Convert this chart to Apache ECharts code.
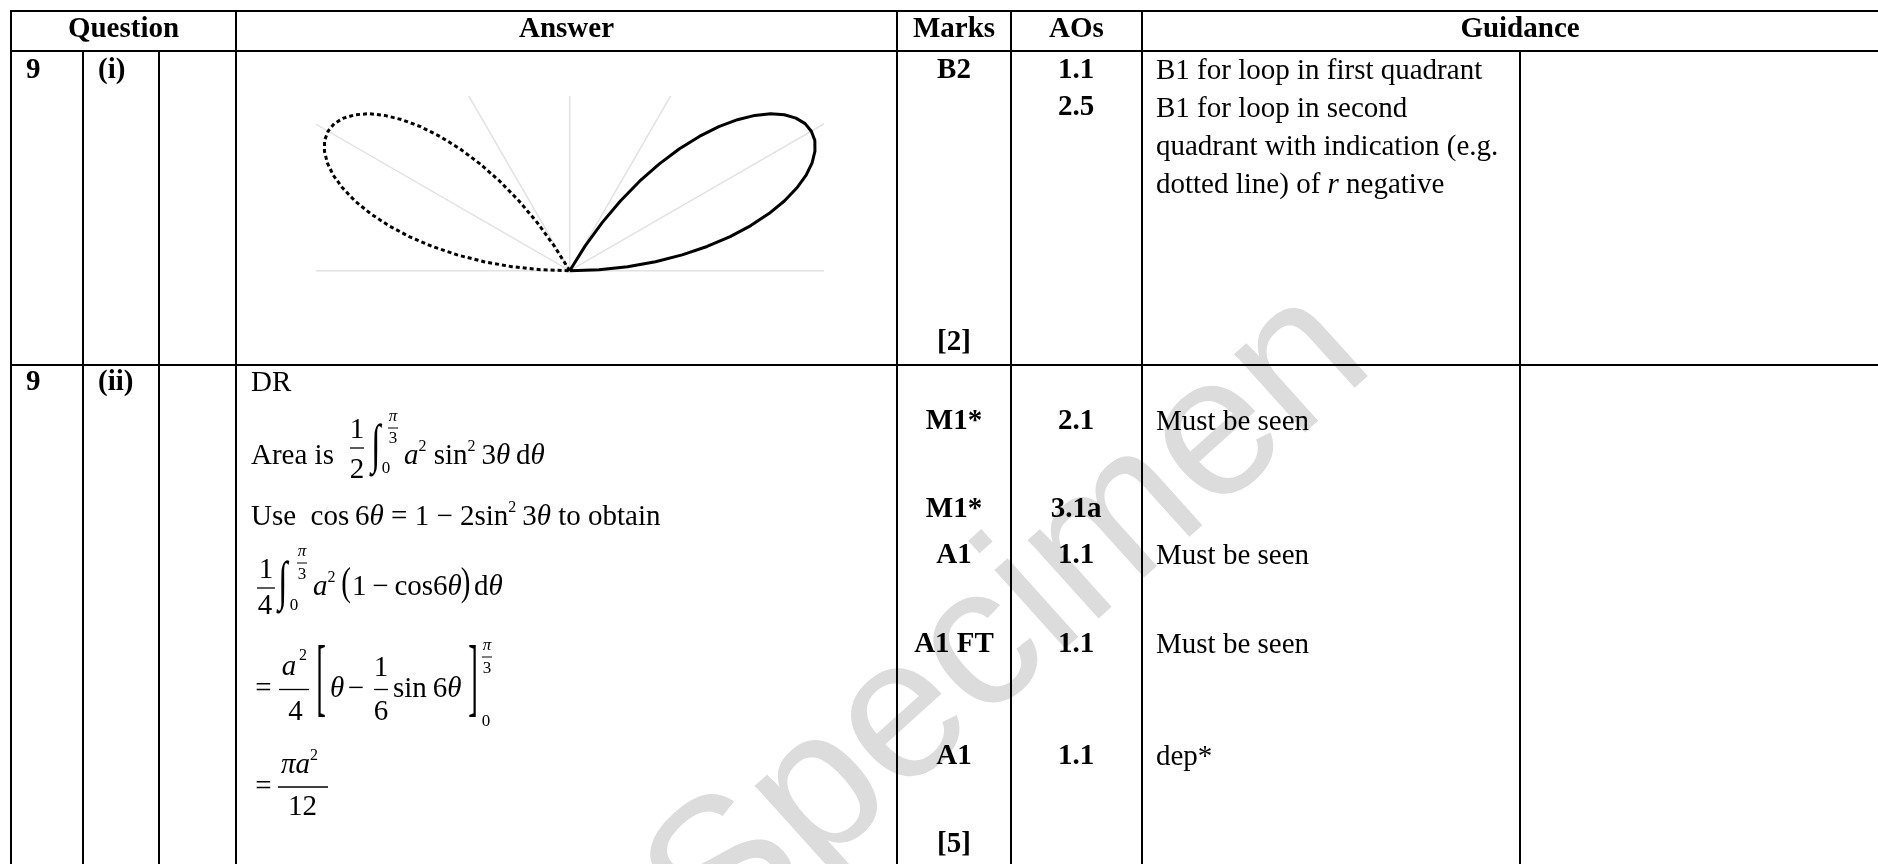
<!DOCTYPE html>
<html><head><meta charset="utf-8">
<script src="https://cdn.jsdelivr.net/npm/echarts@6/dist/echarts.min.js"></script>
<style>html,body{margin:0;padding:0;background:#fff}#c{width:1878px;height:864px}</style>
</head><body><div id="c"></div>
<script>
// ---------- data ----------
const guideAngles = [0, 30, 60, 90, 120, 150, 180];
const firstLoopAngles = [0,2,4,6,8,10,12,14,16,18,20,22,24,26,28,30,32,34,36,38,40,42,44,46,48,50,52,54,56,58,60];
const secondLoopAngles = [120,122,124,126,128,130,132,134,136,138,140,142,144,146,148,150,152,154,156,158,160,162,164,166,168,170,172,174,176,178,180];
const loopRadius = [0,0.105,0.208,0.309,0.407,0.5,0.588,0.669,0.743,0.809,0.866,0.914,0.951,0.978,0.995,1,0.995,0.978,0.951,0.914,0.866,0.809,0.743,0.669,0.588,0.5,0.407,0.309,0.208,0.105,0];
const headerLabels = ['Question', 'Answer', 'Marks', 'AOs', 'Guidance'];
const questionNos = ['9', '9'];
const partLabels = ['(i)', '(ii)'];
const marksI = ['B2', '[2]'];
const aosI = ['1.1', '2.5'];
const guidanceI = ['B1 for loop in first quadrant', 'B1 for loop in second', 'quadrant with indication (e.g.', 'dotted line) of {it|r} negative'];
const marksII = ['M1*', 'M1*', 'A1', 'A1 FT', 'A1', '[5]'];
const aosII = ['2.1', '3.1a', '1.1', '1.1', '1.1'];
const guidanceII = ['Must be seen', '', 'Must be seen', 'Must be seen', 'dep*'];

// ---------- layout ----------
const SERIF = '"Liberation Serif", "Times New Roman", serif';
const F = 29;
const colX = [11, 83, 159, 236, 897, 1011, 1142, 1520];
const rowY = [11, 51, 365];
const marksIY = [71, 343];
const aosIY = [71, 108];
const guidanceIY = [71, 109, 147, 185];
const marksIIY = [422, 510, 556, 645, 757, 845];
const marksX = 954, aosX = 1076, guideX = 1156;

const els = [];
function line(x1, y1, x2, y2, w, z) {
  els.push({type: 'line', z: z || 100, silent: true, shape: {x1, y1, x2, y2}, style: {stroke: '#000', lineWidth: w || 2}});
}
const rich = {
  n: {fontFamily: SERIF, fontSize: F, lineHeight: 34, fill: '#000'},
  it: {fontFamily: SERIF, fontSize: F, fontStyle: 'italic', lineHeight: 34, fill: '#000'},
  s: {fontFamily: SERIF, fontSize: 16, lineHeight: 25, verticalAlign: 'top', fill: '#000'}
};
function txt(x, y, text, o) {
  o = o || {};
  els.push({
    type: 'text', z: 110, silent: true, x, y,
    scaleX: o.sx || 1, scaleY: o.sy || 1,
    style: {
      text, x: 0, y: 0, fill: '#000',
      fontFamily: o.family || SERIF, fontSize: o.size || F,
      fontWeight: o.bold ? 'bold' : 'normal', fontStyle: o.italic ? 'italic' : 'normal',
      align: o.align || 'left', verticalAlign: 'middle',
      rich: o.rich ? rich : undefined
    }
  });
}

// watermark
els.push({type: 'text', z: -10, silent: true, x: 1010, y: 624, rotation: 42 * Math.PI / 180,
  style: {text: 'Specimen', x: 0, y: 0, fill: '#dcdcdc', fontFamily: '"Liberation Sans", Arial, sans-serif', fontSize: 200, align: 'center', verticalAlign: 'middle'}});

// table grid
line(colX[0] - 1, rowY[0], 1878, rowY[0]);
line(colX[0] - 1, rowY[1], 1878, rowY[1]);
line(colX[0] - 1, rowY[2], 1878, rowY[2]);
[0, 3, 4, 5, 6].forEach(i => line(colX[i], rowY[0] - 1, colX[i], 864));
[1, 2, 7].forEach(i => line(colX[i], rowY[1], colX[i], 864));

// headers
const headerCenters = [(colX[0] + colX[3]) / 2, (colX[3] + colX[4]) / 2, (colX[4] + colX[5]) / 2, (colX[5] + colX[6]) / 2, colX[7]];
headerLabels.forEach((h, i) => txt(headerCenters[i], 30, h, {bold: true, align: 'center'}));

// question / part labels
questionNos.forEach((q, i) => txt(26, [71, 383][i], q, {bold: true}));
partLabels.forEach((p, i) => txt(98, [71, 383][i], p, {bold: true}));

// part (i) marks, AOs, guidance
marksI.forEach((m, i) => txt(marksX, marksIY[i], m, {bold: true, align: 'center'}));
aosI.forEach((a, i) => txt(aosX, aosIY[i], a, {bold: true, align: 'center'}));
guidanceI.forEach((g, i) => txt(guideX, guidanceIY[i], '{n|' + g.replace('{it|r}', '}{it|r}{n|') + '}', {rich: true}));

// part (ii) marks, AOs, guidance
marksII.forEach((m, i) => txt(marksX, marksIIY[i], m, {bold: true, align: 'center'}));
aosII.forEach((a, i) => txt(aosX, marksIIY[i], a, {bold: true, align: 'center'}));
guidanceII.forEach((g, i) => { if (g) txt(guideX, marksIIY[i], g); });

// answer (ii) working
txt(251, 383, 'DR');
// Area is 1/2 int a^2 sin^2 3θ dθ
txt(251, 456, 'Area is');
txt(357, 430, '1', {align: 'center'});
line(350, 448, 364, 448, 1.3, 110);
txt(357, 470, '2', {align: 'center'});
txt(376, 448, '\u222B', {align: 'center', size: 34, sy: 1.6});
txt(393, 417, '\u03C0', {align: 'center', size: 17, italic: true});
line(388, 428, 398, 428, 1, 110);
txt(393, 439, '3', {align: 'center', size: 17});
txt(386, 469, '0', {align: 'center', size: 17});
txt(404, 456, '{it|a}{s|2}{n| sin}{s|2}{n|\u20093}{it|θ}{n|\u2009d}{it|θ}', {rich: true});
// Use cos6θ = 1 − 2sin^2 3θ to obtain
txt(251, 517, '{n|Use  cos\u20096}{it|θ}{n| = 1 − 2sin}{s|2}{n|\u20093}{it|θ}{n| to obtain}', {rich: true});
// 1/4 int a^2(1 − cos6θ)dθ
txt(266, 570, '1', {align: 'center'});
line(257, 588, 275, 588, 1.3, 110);
txt(265, 606, '4', {align: 'center'});
txt(283, 585, '\u222B', {align: 'center', size: 34, sy: 1.6});
txt(302, 552, '\u03C0', {align: 'center', size: 17, italic: true});
line(297, 563, 307, 563, 1, 110);
txt(302, 575, '3', {align: 'center', size: 17});
txt(294, 606, '0', {align: 'center', size: 17});
txt(313, 587, '{it|a}{s|2}', {rich: true});
txt(346, 584, '(', {align: 'center', sy: 1.4});
txt(352, 587, '{n|1\u2009−\u2009cos6}{it|θ}', {rich: true});
txt(465.5, 584, ')', {align: 'center', sy: 1.4});
txt(474, 587, '{n|d}{it|θ}', {rich: true});
// = a^2/4 [θ − 1/6 sin6θ]
txt(263.5, 689, '=', {align: 'center'});
txt(289, 667, 'a', {align: 'center', italic: true});
txt(303, 656, '2', {align: 'center', size: 16});
line(279, 689.5, 309, 689.5, 1.3, 110);
txt(295.5, 712, '4', {align: 'center'});
txt(321, 682, '[', {align: 'center', sy: 3});
txt(337, 689, 'θ', {align: 'center', italic: true});
txt(356, 689, '−', {align: 'center'});
txt(381, 668, '1', {align: 'center'});
line(374, 689.5, 388, 689.5, 1.3, 110);
txt(381, 712, '6', {align: 'center'});
txt(393, 689, '{n|sin\u20096}{it|θ}', {rich: true});
txt(473, 682, ']', {align: 'center', sy: 3});
txt(487, 646, '\u03C0', {align: 'center', size: 17, italic: true});
line(482, 657, 492, 657, 1, 110);
txt(487, 669, '3', {align: 'center', size: 17});
txt(486, 722, '0', {align: 'center', size: 17});
// = πa^2/12
txt(263.5, 787, '=', {align: 'center'});
txt(281, 765, '{it|πa}{s|2}', {rich: true});
line(278, 787, 328, 787, 1.3, 110);
txt(302.5, 807, '12', {align: 'center'});

// ---------- chart (polar sketch) ----------
function toXY(angles) {
  return angles.map((a, i) => {
    const t = a * Math.PI / 180, r = loopRadius[i];
    return [r * Math.cos(t), r * Math.sin(t)];
  });
}
const guideSeries = guideAngles.map(a => ({
  type: 'line', silent: true, symbol: 'none', clip: true, z: 1,
  lineStyle: {color: '#e2e2e2', width: 1.5},
  data: [[0, 0], [2 * Math.cos(a * Math.PI / 180), 2 * Math.sin(a * Math.PI / 180)]]
}));

const chart = echarts.init(document.getElementById('c'), null, {renderer: 'canvas'});
chart.setOption({
  animation: false,
  backgroundColor: '#fff',
  grid: {left: 317, top: 96.7, width: 505.4, height: 179.6, containLabel: false},
  xAxis: {type: 'value', min: -0.9057, max: 0.9057, show: false},
  yAxis: {type: 'value', min: -0.02, max: 0.6237, show: false},
  series: guideSeries.concat([
    {type: 'line', name: 'r positive', symbol: 'none', smooth: false, z: 3, clip: false,
     lineStyle: {color: '#000', width: 3, join: 'round'}, data: toXY(firstLoopAngles)},
    {type: 'line', name: 'r negative', symbol: 'none', smooth: false, z: 3, clip: false,
     lineStyle: {color: '#000', width: 3, type: [4, 3]}, data: toXY(secondLoopAngles)}
  ]),
  graphic: {elements: els}
});
</script></body></html>
